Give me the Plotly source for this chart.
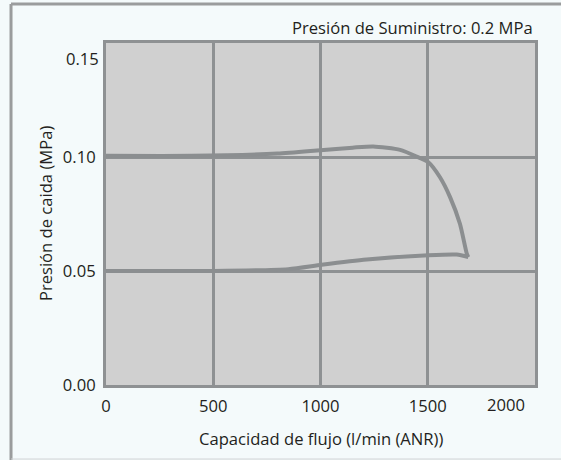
import plotly.graph_objects as go

# ---- data ----
upper_x = [0, 400, 800, 1000, 1150, 1246, 1371, 1448, 1503, 1557, 1604, 1650, 1682, 1689]
upper_y = [0.1005, 0.1005, 0.1015, 0.1030, 0.1041, 0.1046, 0.1031, 0.1002, 0.0977, 0.0911, 0.0824, 0.0707, 0.0576, 0.0561]
lower_x = [0, 500, 850, 1005, 1215, 1503, 1635, 1689]
lower_y = [0.0500, 0.0500, 0.0508, 0.0527, 0.0550, 0.0569, 0.0572, 0.0561]

x_ticks = [0, 500, 1000, 1500, 2000]
x_tick_labels = ["0", "500", "1000", "1500", "2000"]
y_ticks = [0.0, 0.05, 0.10, 0.15]
y_tick_labels = ["0.00", "0.05", "0.10", "0.15"]

title_text = "Presión de Suministro: 0.2 MPa"
x_title = "Capacidad de flujo (l/min (ANR))"
y_title = "Presión de caida (MPa)"

FONT = "Open Sans"
FS = 16.6
TXT = "#231f20"
GRID = "#8e9193"
CURVE = "#8b8e90"
BG = "#f4fafb"

fig = go.Figure()
for xs, ys in [(upper_x, upper_y), (lower_x, lower_y)]:
    fig.add_trace(go.Scatter(x=xs, y=ys, mode="lines",
                             line=dict(color=CURVE, width=4, shape="spline", smoothing=0.6),
                             showlegend=False, hoverinfo="skip"))

fig.update_layout(
    width=561, height=460,
    margin=dict(l=106, r=26, t=43, b=75),
    paper_bgcolor=BG,
    plot_bgcolor="#d0d0d0",
    font=dict(family=FONT, size=FS, color=TXT),
    showlegend=False,
)
fig.update_xaxes(range=[0, 2000], tickvals=x_ticks,
                 ticktext=x_tick_labels[:-1] + [""],
                 showgrid=True, gridcolor=GRID, gridwidth=2.5,
                 showline=True, linecolor=GRID, linewidth=3, mirror=True,
                 zeroline=False, ticks="", ticklabelstandoff=4,
                 tickfont=dict(family=FONT, size=FS, color=TXT))
fig.update_yaxes(range=[0, 0.15], tickvals=y_ticks,
                 ticktext=y_tick_labels[:-1] + [""],
                 showgrid=True, gridcolor=GRID, gridwidth=2.5,
                 showline=True, linecolor=GRID, linewidth=3, mirror=True,
                 zeroline=False, ticks="", ticklabelstandoff=4,
                 tickfont=dict(family=FONT, size=FS, color=TXT))

# shifted end tick labels
fig.add_annotation(x=x_ticks[-1], y=0, xref="x", yref="paper", text=x_tick_labels[-1],
                   showarrow=False, xanchor="center", yanchor="middle", xshift=-29, yshift=-19,
                   font=dict(family=FONT, size=FS, color=TXT))
fig.add_annotation(x=0, y=y_ticks[-1], xref="paper", yref="y", text=y_tick_labels[-1],
                   showarrow=False, xanchor="right", yanchor="middle", xshift=-5, yshift=-15,
                   font=dict(family=FONT, size=FS, color=TXT))

# titles
fig.add_annotation(x=1, y=1.044, xref="paper", yref="paper", text=title_text, showarrow=False,
                   xanchor="right", yanchor="middle", font=dict(family=FONT, size=FS, color=TXT))
fig.add_annotation(x=0.5, y=-0.155, xref="paper", yref="paper", text=x_title, showarrow=False,
                   xanchor="center", yanchor="middle", font=dict(family=FONT, size=FS, color=TXT))
fig.add_annotation(x=-0.142, y=0.5, xref="paper", yref="paper", text=y_title, showarrow=False,
                   textangle=-90, xanchor="center", yanchor="middle",
                   font=dict(family=FONT, size=FS, color=TXT))

# outer frame
fig.add_shape(type="line", xref="paper", yref="paper", x0=-0.2214, x1=-0.2214, y0=-0.22, y1=1.114,
              line=dict(color="#9a9c9d", width=3), layer="below")
fig.add_shape(type="line", xref="paper", yref="paper", x0=-0.2214, x1=1.1, y0=1.114, y1=1.114,
              line=dict(color="#9a9c9d", width=3), layer="below")
fig.add_shape(type="line", xref="paper", yref="paper", x0=-0.2214, x1=1.1, y0=-0.2165, y1=-0.2165,
              line=dict(color="#cfd3d4", width=1), layer="below")

fig.write_html("out.html", config={"displayModeBar": False},
               post_script="document.body.style.margin='0';document.body.style.background='" + BG + "';")
